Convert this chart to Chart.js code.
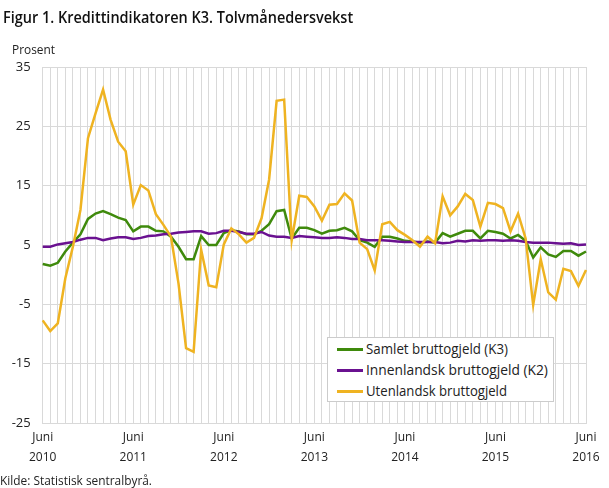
<!DOCTYPE html>
<html lang="no">
<head>
<meta charset="utf-8">
<title>Kredittindikatoren K3</title>
<script src="https://cdn.jsdelivr.net/npm/chart.js@4/dist/chart.umd.min.js"></script>
<style>
  html, body { margin: 0; padding: 0; background: #fff; }
  #wrap { position: relative; width: 609px; height: 488px; overflow: hidden; font-family: "Open Sans", sans-serif; color: #222; }
  #chart { position: absolute; left: 0; top: 0; }
  .txt { position: absolute; white-space: nowrap; transform-origin: 0 50%; }
  #title { left: 3px; top: 5px; font-size: 17px; font-weight: 600; color: #111; }
  #unit { left: 12px; top: 40px; font-size: 13px; }
  #source { left: 0px; top: 472px; font-size: 12px; }
  #legend { position: absolute; left: 327px; top: 337px; width: 225px; height: 63px; background: #fff; border: 1px solid #ccc; }
  .item { position: absolute; left: 9px; height: 20px; }
  .swatch { position: absolute; left: 0; top: 9px; width: 26px; height: 2.5px; }
  .item .txt { left: 29px; top: 0; font-size: 14px; line-height: 20px; }
</style>
</head>
<body>
<div id="wrap">
  <canvas id="chart" width="609" height="488"></canvas>
  <div id="title" class="txt" data-w="350">Figur 1. Kredittindikatoren K3. Tolvmånedersvekst</div>
  <div id="unit" class="txt" data-w="43">Prosent</div>
  <div id="legend"></div>
  <div id="source" class="txt" data-w="152">Kilde: Statistisk sentralbyrå.</div>
</div>
<script>
// Tolvmånedersvekst, juni 2010 - juni 2016 (månedlig)
const startYear = 2010;
const startMonth = 6;
const monthCount = 73;

const yTicks = [-25, -15, -5, 5, 15, 25, 35];

const samlet = [
  1.8, 1.5, 2.0, 3.9, 5.4, 6.8, 9.4, 10.3, 10.7, 10.2, 9.6, 9.2,
  7.3, 8.1, 8.1, 7.4, 7.3, 6.4, 4.7, 2.6, 2.6, 6.5, 5.0, 5.0,
  7.0, 7.5, 7.3, 6.8, 6.8, 7.4, 8.5, 10.7, 10.9, 6.1, 7.9, 7.9,
  7.5, 6.9, 7.4, 7.5, 7.9, 7.3, 5.8, 5.4, 4.7, 6.4, 6.4, 6.1,
  5.7, 5.6, 5.4, 5.6, 5.4, 7.0, 6.4, 6.9, 7.4, 7.4, 6.1, 7.4,
  7.2, 6.9, 6.1, 6.7, 5.7, 2.9, 4.6, 3.4, 3.0, 4.0, 4.0, 3.2,
  3.9
];

const innenlandsk = [
  4.7, 4.7, 5.1, 5.3, 5.5, 5.9, 6.2, 6.2, 5.8, 6.1, 6.3, 6.3,
  6.0, 6.2, 6.5, 6.6, 6.8, 6.9, 7.1, 7.2, 7.3, 7.3, 6.9, 7.0,
  7.4, 7.4, 7.2, 6.9, 6.9, 7.2, 6.6, 6.4, 6.4, 6.2, 6.5, 6.4,
  6.3, 6.2, 6.2, 6.3, 6.2, 6.0, 6.0, 5.8, 5.8, 5.8, 5.7, 5.6,
  5.5, 5.5, 5.5, 5.5, 5.5, 5.3, 5.4, 5.7, 5.6, 5.8, 5.7, 5.8,
  5.8, 5.7, 5.8, 5.7, 5.5, 5.4, 5.4, 5.4, 5.3, 5.2, 5.3, 5.0,
  5.1
];

const utenlandsk = [
  -7.7, -9.5, -8.2, -0.6, 4.7, 10.9, 23.0, 27.2, 31.2, 26.1, 22.4, 20.8,
  11.8, 15.1, 14.2, 10.2, 8.4, 6.4, -1.5, -12.4, -13.0, 4.2, -1.8, -2.1,
  5.1, 7.8, 6.8, 5.4, 6.2, 9.5, 16.0, 29.3, 29.5, 5.8, 13.3, 13.1,
  11.5, 9.1, 11.8, 11.9, 13.7, 12.5, 5.4, 4.3, 0.7, 8.5, 8.9, 7.5,
  6.7, 5.8, 4.7, 6.4, 5.3, 13.2, 10.0, 11.5, 13.6, 12.6, 8.1, 12.1,
  11.9, 11.2, 7.3, 10.3, 6.1, -5.1, 2.6, -3.0, -4.2, 1.0, 0.6, -1.9,
  0.8
];

const seriesNames = ["Samlet bruttogjeld (K3)", "Innenlandsk bruttogjeld (K2)", "Utenlandsk bruttogjeld"];
const seriesColors = ["#3f8a0c", "#6a1190", "#efb321"];

// kategorier: "2010M06" ... "2016M06"
const months = [];
for (let i = 0; i < monthCount; i++) {
    const m = startMonth - 1 + i;
    const y = startYear + Math.floor(m / 12);
    months.push(y + "M" + String((m % 12) + 1).padStart(2, "0"));
}

const GRID = "#d9d9d9";
const TEXT = "#222";
const FONT = "'Open Sans', sans-serif";

const chart = new Chart(document.getElementById("chart"), {
    type: "line",
    data: {
        labels: months,
        datasets: [
            { label: seriesNames[0], data: samlet, borderColor: seriesColors[0], order: 3 },
            { label: seriesNames[1], data: innenlandsk, borderColor: seriesColors[1], order: 2 },
            { label: seriesNames[2], data: utenlandsk, borderColor: seriesColors[2], order: 1 },
        ],
    },
    options: {
        responsive: false,
        animation: false,
        layout: { padding: { top: 67, right: 23, bottom: 21, left: 0 } },
        elements: {
            point: { radius: 0 },
            line: { borderWidth: 2.5, tension: 0, fill: false, borderJoinStyle: "miter" },
        },
        plugins: {
            legend: { display: false },
            tooltip: { enabled: false },
        },
        scales: {
            x: {
                offset: false,
                grid: { color: GRID, drawTicks: false },
                border: { color: GRID },
                ticks: {
                    autoSkip: false,
                    maxRotation: 0,
                    padding: 5,
                    color: TEXT,
                    font: { family: FONT, size: 12, lineHeight: 1.65 },
                    callback: (v, i) => {
                        const lab = months[i];
                        return lab.endsWith("M06") ? ["Juni", lab.slice(0, 4)] : "";
                    },
                },
                afterFit: (s) => { s.height = 44; },
            },
            y: {
                min: -25,
                max: 35,
                afterBuildTicks: (s) => { s.ticks = yTicks.map((v) => ({ value: v })); },
                grid: { color: GRID, drawTicks: false },
                border: { display: false },
                ticks: {
                    padding: 12,
                    color: TEXT,
                    font: { family: FONT, size: 13 },
                },
                afterFit: (s) => { s.width = 42.7; },
            },
        },
    },
});

// forklaring
const legendEl = document.getElementById("legend");
chart.data.datasets.forEach((ds, i) => {
    const item = document.createElement("div");
    item.className = "item";
    item.style.top = (1 + i * 21) + "px";
    const sw = document.createElement("div");
    sw.className = "swatch";
    sw.style.background = ds.borderColor;
    const t = document.createElement("div");
    t.className = "txt";
    t.textContent = ds.label;
    t.dataset.w = [142, 182, 141][i];
    item.appendChild(sw);
    item.appendChild(t);
    legendEl.appendChild(item);
});

// smal skrift: tilpass bredden
document.querySelectorAll(".txt[data-w]").forEach((el) => {
    const w = el.getBoundingClientRect().width;
    const target = Number(el.dataset.w);
    if (w > 0 && target) el.style.transform = "scaleX(" + (target / w).toFixed(3) + ")";
});
</script>
</body>
</html>
